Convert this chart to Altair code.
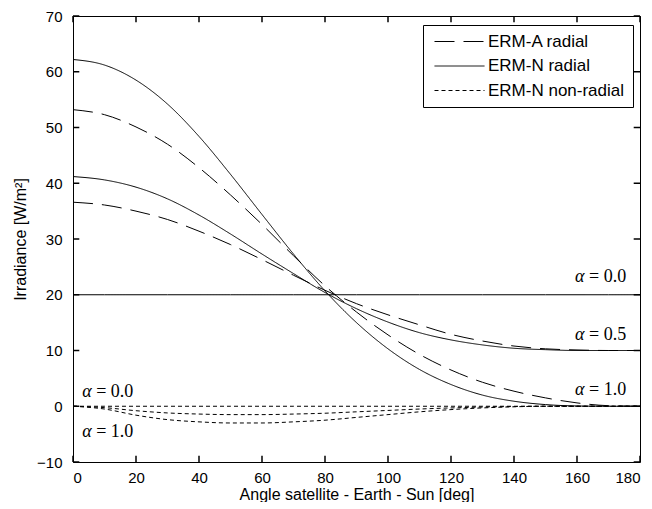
import altair as alt
import pandas as pd

# ---------------- data ----------------
angles = [0, 10, 20, 30, 40, 50, 60, 70, 80, 90, 100, 110, 120, 130, 140, 150, 160, 170, 180]

ermn_rad_a10 = [62.2, 61.2, 58.5, 54.2, 48.4, 41.6, 34.4, 27.3, 20.7, 15.0, 10.3, 6.6, 3.9, 2.0, 0.9, 0.3, 0.05, 0.0, 0.0]
ermn_rad_a05 = [41.2, 40.6, 39.3, 37.2, 34.3, 30.9, 27.3, 23.8, 20.4, 17.5, 15.1, 13.2, 11.9, 11.0, 10.4, 10.15, 10.0, 10.0, 10.0]
ermn_rad_a00 = [20.0] * 19
erma_rad_a10 = [53.2, 52.3, 50.1, 47.0, 42.8, 37.9, 32.6, 27.0, 21.6, 16.9, 12.8, 9.3, 6.5, 4.3, 2.7, 1.5, 0.6, 0.1, 0.0]
erma_rad_a05 = [36.6, 36.1, 35.0, 33.5, 31.4, 29.0, 26.3, 23.5, 20.8, 18.4, 16.4, 14.6, 12.9, 11.7, 10.8, 10.3, 10.1, 10.0, 10.0]
ermn_non_a10 = [0.0, -0.5, -1.6, -2.4, -2.8, -3.0, -3.0, -2.8, -2.5, -2.0, -1.5, -1.0, -0.6, -0.3, -0.1, 0.0, 0.0, 0.0, 0.0]
ermn_non_a05 = [0.0, -0.25, -0.8, -1.2, -1.4, -1.5, -1.5, -1.4, -1.25, -1.0, -0.75, -0.5, -0.3, -0.15, -0.05, 0.0, 0.0, 0.0, 0.0]
ermn_non_a00 = [0.0] * 19

series_names = ["ERM-A radial", "ERM-N radial", "ERM-N non-radial"]

curves = [
    ("ERM-N radial", "N a1.0", ermn_rad_a10),
    ("ERM-N radial", "N a0.5", ermn_rad_a05),
    ("ERM-N radial", "N a0.0", ermn_rad_a00),
    ("ERM-A radial", "A a1.0", erma_rad_a10),
    ("ERM-A radial", "A a0.5", erma_rad_a05),
    ("ERM-N non-radial", "NR a1.0", ermn_non_a10),
    ("ERM-N non-radial", "NR a0.5", ermn_non_a05),
    ("ERM-N non-radial", "NR a0.0", ermn_non_a00),
]

rows = []
for series, curve, vals in curves:
    for a, v in zip(angles, vals):
        rows.append({"angle": a, "value": v, "series": series, "curve": curve})
df = pd.DataFrame(rows)

# annotations
ann_text = ["= 0.0", "= 0.5", "= 1.0", "= 0.0", "= 1.0"]
ann_angle = [159.4, 159.4, 159.4, 2.9, 2.9]
ann_value = [23.1, 12.8, 2.9, 2.6, -4.6]
ann = pd.DataFrame({"angle": ann_angle, "value": ann_value, "text": ann_text, "greek": ["α"] * 5})

x_ticks = [0, 20, 40, 60, 80, 100, 120, 140, 160, 180]
y_ticks = [-10, 0, 10, 20, 30, 40, 50, 60, 70]

X0, X1, Y0, Y1 = 0, 180, -10, 70
TX = 2.0    # tick length in x-axis units (~6 px)
TY = 1.1    # tick length in y-axis units (~6 px)

# tick segments along the four edges of the frame, built from the tick lists
tx_rows = []
for t in x_ticks:
    tx_rows.append({"angle": t, "y0": Y0, "y1": Y0 + TY})
    tx_rows.append({"angle": t, "y0": Y1, "y1": Y1 - TY})
ty_rows = []
for t in y_ticks:
    ty_rows.append({"value": t, "x0": X0, "x1": X0 + TX})
    ty_rows.append({"value": t, "x0": X1, "x1": X1 - TX})
xt = pd.DataFrame(tx_rows)
yt = pd.DataFrame(ty_rows)

FONT = "Liberation Sans"
W, H = 567, 446
xscale = alt.Scale(domain=[X0, X1], nice=False, zero=False)
yscale = alt.Scale(domain=[Y0, Y1], nice=False, zero=False)

lines = alt.Chart(df).mark_line(color="black", strokeWidth=1, interpolate="monotone").encode(
    x=alt.X("angle:Q", scale=xscale,
            axis=alt.Axis(values=x_ticks, ticks=False, labelPadding=8, domain=False,
                          title="Angle satellite - Earth - Sun [deg]",
                          titleY=32, titleBaseline="middle")),
    y=alt.Y("value:Q", scale=yscale,
            axis=alt.Axis(values=y_ticks, ticks=False, labelPadding=11, domain=False,
                          title="Irradiance [W/m²]", titlePadding=8)),
    strokeDash=alt.StrokeDash(
        "series:N",
        scale=alt.Scale(domain=series_names, range=[[20, 9], [1, 0], [4, 3]]),
        legend=alt.Legend(
            orient="none", legendX=350, legendY=9, title=None,
            symbolType="M-5,0H5", symbolSize=100, symbolOffset=20,
            symbolStrokeWidth=1, symbolStrokeColor="black",
            labelOffset=20, labelFont=FONT, labelFontSize=17, labelColor="black",
            strokeColor="black", fillColor="white", padding=8, rowPadding=6.5,
            labelLimit=300,
        ),
    ),
    detail="curve:N",
)

ticks_x = alt.Chart(xt).mark_rule(color="black", strokeWidth=1.5).encode(
    x=alt.X("angle:Q", scale=xscale, axis=None),
    y=alt.Y("y0:Q", scale=yscale, axis=None),
    y2="y1:Q",
)
ticks_y = alt.Chart(yt).mark_rule(color="black", strokeWidth=1.5).encode(
    y=alt.Y("value:Q", scale=yscale, axis=None),
    x=alt.X("x0:Q", scale=xscale, axis=None),
    x2="x1:Q",
)

greek = alt.Chart(ann).mark_text(
    align="left", baseline="middle", font="Liberation Serif", fontSize=18,
    fontStyle="italic", color="black"
).encode(x=alt.X("angle:Q", axis=None), y=alt.Y("value:Q", axis=None), text="greek:N")

nums = alt.Chart(ann).mark_text(
    align="left", baseline="middle", font="Liberation Serif", fontSize=18,
    color="black", dx=14
).encode(x=alt.X("angle:Q", axis=None), y=alt.Y("value:Q", axis=None), text="text:N")

chart = alt.layer(lines, ticks_x, ticks_y, greek, nums).resolve_axis(
    x="independent", y="independent"
).properties(
    width=W, height=H,
    padding={"left": 65, "top": 8, "right": 3, "bottom": 40},
    autosize=alt.AutoSizeParams(type="none"),
    background="white",
).configure_view(
    stroke="black", strokeWidth=1
).configure_axis(
    grid=False, labelFont=FONT, labelFontSize=15, labelColor="black",
    titleFont=FONT, titleFontSize=16, titleFontWeight="normal", titleColor="black",
)

chart.save("out.html", embed_options={"renderer": "svg", "actions": False})
